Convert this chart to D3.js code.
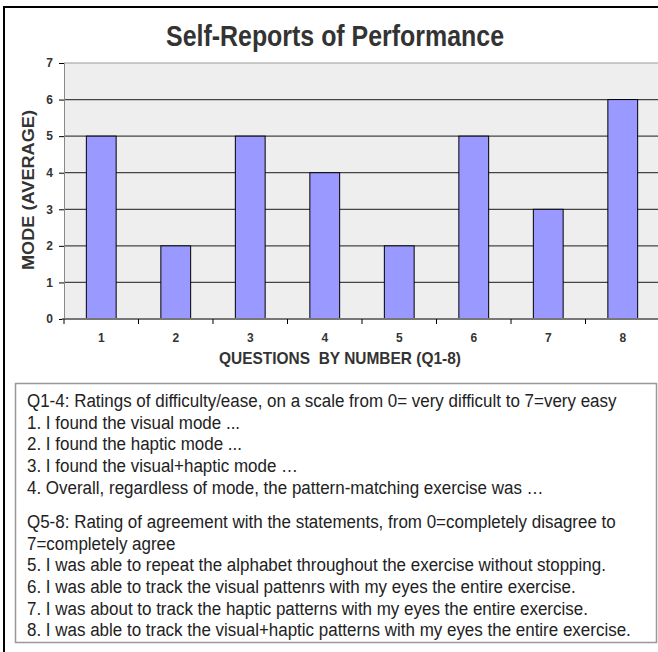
<!DOCTYPE html>
<html>
<head>
<meta charset="utf-8">
<script src="https://cdn.jsdelivr.net/npm/d3@7"></script>
<style>
  body { margin: 0; background: #fff; }
  svg { display: block; }
</style>
</head>
<body>
<div id="chart"></div>
<script>
var questions = ["1", "2", "3", "4", "5", "6", "7", "8"];
var modeValues = [5, 2, 5, 4, 2, 5, 3, 6];
var yTicks = [0, 1, 2, 3, 4, 5, 6, 7];
var notesA = [
    "Q1-4: Ratings of difficulty/ease, on a scale from 0= very difficult to 7=very easy",
    "1. I found the visual mode ...",
    "2. I found the haptic mode ...",
    "3. I found the visual+haptic mode \u2026",
    "4. Overall, regardless of mode, the pattern-matching exercise was \u2026"
];
var notesB = [
    "Q5-8: Rating of agreement with the statements, from 0=completely disagree to",
    "7=completely agree",
    "5. I was able to repeat the alphabet throughout the exercise without stopping.",
    "6. I was able to track the visual pattenrs with my eyes the entire exercise.",
    "7. I was about to track the haptic patterns with my eyes the entire exercise.",
    "8. I was able to track the visual+haptic patterns with my eyes the entire exercise."
];

var width = 658, height = 652;
var plot = { left: 64, top: 63, right: 660, bottom: 319 };
var sans = "Liberation Sans, Arial, sans-serif";

var svg = d3.select("#chart")
    .append("svg")
    .attr("width", width)
    .attr("height", height);

// outer frame
svg.append("rect")
    .attr("x", 4).attr("y", 7)
    .attr("width", 700).attr("height", 700)
    .attr("fill", "none")
    .attr("stroke", "#000")
    .attr("stroke-width", 2);

svg.append("text")
    .attr("x", 166).attr("y", 46)
    .attr("textLength", 338)
    .attr("lengthAdjust", "spacingAndGlyphs")
    .attr("font-family", sans)
    .attr("font-weight", "bold")
    .attr("font-size", 30)
    .attr("fill", "#333")
    .text("Self-Reports of Performance");

var x = d3.scaleBand()
    .domain(questions)
    .range([plot.left, plot.right])
    .paddingInner(0.6)
    .paddingOuter(0.3);

var y = d3.scaleLinear()
    .domain([0, 7])
    .range([plot.bottom, plot.top]);

svg.append("rect")
    .attr("x", plot.left).attr("y", plot.top)
    .attr("width", plot.right - plot.left)
    .attr("height", plot.bottom - plot.top)
    .attr("fill", "#eeeeee");

// gridlines
svg.append("g")
    .selectAll("line")
    .data(yTicks.filter(d => d > 0))
    .join("line")
    .attr("x1", plot.left).attr("x2", plot.right)
    .attr("y1", d => y(d)).attr("y2", d => y(d))
    .attr("stroke", d => d === 7 ? "#999" : "#444")
    .attr("stroke-width", 1.2);

// bars
svg.append("g")
    .selectAll("rect")
    .data(modeValues)
    .join("rect")
    .attr("x", (d, i) => x(questions[i]))
    .attr("y", d => y(d))
    .attr("width", x.bandwidth())
    .attr("height", d => y(0) - y(d))
    .attr("fill", "#9999ff")
    .attr("stroke", "#000")
    .attr("stroke-width", 1);

// y axis
var yAxis = d3.axisLeft(y)
    .tickValues(yTicks)
    .tickFormat(d3.format("d"))
    .tickSize(5)
    .tickPadding(6);
var yg = svg.append("g")
    .attr("transform", "translate(" + plot.left + ",0)")
    .call(yAxis);
yg.select(".domain").attr("stroke", "#888");
yg.selectAll("text")
    .attr("font-family", sans)
    .attr("font-weight", "bold")
    .attr("font-size", 12)
    .attr("fill", "#333");

// x axis: ticks on band boundaries
var gap = (x.step() - x.bandwidth()) / 2;
var xAxisG = svg.append("g")
    .attr("transform", "translate(0," + plot.bottom + ")");
xAxisG.append("line")
    .attr("x1", plot.left - 2).attr("x2", plot.right)
    .attr("stroke", "#777")
    .attr("stroke-width", 2);
xAxisG.selectAll(".bound")
    .data(questions)
    .join("line")
    .attr("class", "bound")
    .attr("x1", d => x(d) - gap)
    .attr("x2", d => x(d) - gap)
    .attr("y1", 0).attr("y2", 5)
    .attr("stroke", "#000");
xAxisG.selectAll("text")
    .data(questions)
    .join("text")
    .attr("x", d => x(d) + x.bandwidth() / 2)
    .attr("y", 23)
    .attr("text-anchor", "middle")
    .attr("font-family", sans)
    .attr("font-weight", "bold")
    .attr("font-size", 12)
    .attr("fill", "#333")
    .text(d => d);

svg.append("text")
    .attr("x", 219).attr("y", 364)
    .attr("textLength", 242)
    .attr("lengthAdjust", "spacingAndGlyphs")
    .attr("font-family", sans)
    .attr("font-weight", "bold")
    .attr("font-size", 17)
    .attr("fill", "#333")
    .attr("xml:space", "preserve")
    .style("white-space", "pre")
    .text("QUESTIONS  BY NUMBER (Q1-8)");

svg.append("text")
    .attr("transform", "translate(34,270) rotate(-90)")
    .attr("textLength", 160)
    .attr("lengthAdjust", "spacingAndGlyphs")
    .attr("font-family", sans)
    .attr("font-weight", "bold")
    .attr("font-size", 17)
    .attr("fill", "#333")
    .text("MODE (AVERAGE)");

// notes box
svg.append("rect")
    .attr("x", 15.5).attr("y", 383.5)
    .attr("width", 641).attr("height", 259)
    .attr("fill", "#fff")
    .attr("stroke", "#999")
    .attr("stroke-width", 1.5);

var notes = svg.append("g");
notes.selectAll(".na")
    .data(notesA)
    .join("text")
    .attr("class", "na")
    .attr("y", (d, i) => 407 + i * 21.7)
    .text(d => d);
notes.selectAll(".nb")
    .data(notesB)
    .join("text")
    .attr("class", "nb")
    .attr("y", (d, i) => 528 + i * 21.7)
    .text(d => d);
notes.selectAll("text")
    .attr("x", 0)
    .attr("font-family", sans)
    .attr("font-size", 19)
    .attr("fill", "#222");

// condense the notes so the first line spans the same width as the reference
var firstLen = notes.select(".na").node().getComputedTextLength();
var sx = 590 / firstLen;
notes.attr("transform", "translate(27,0) scale(" + sx + ",1)");
</script>
</body>
</html>
